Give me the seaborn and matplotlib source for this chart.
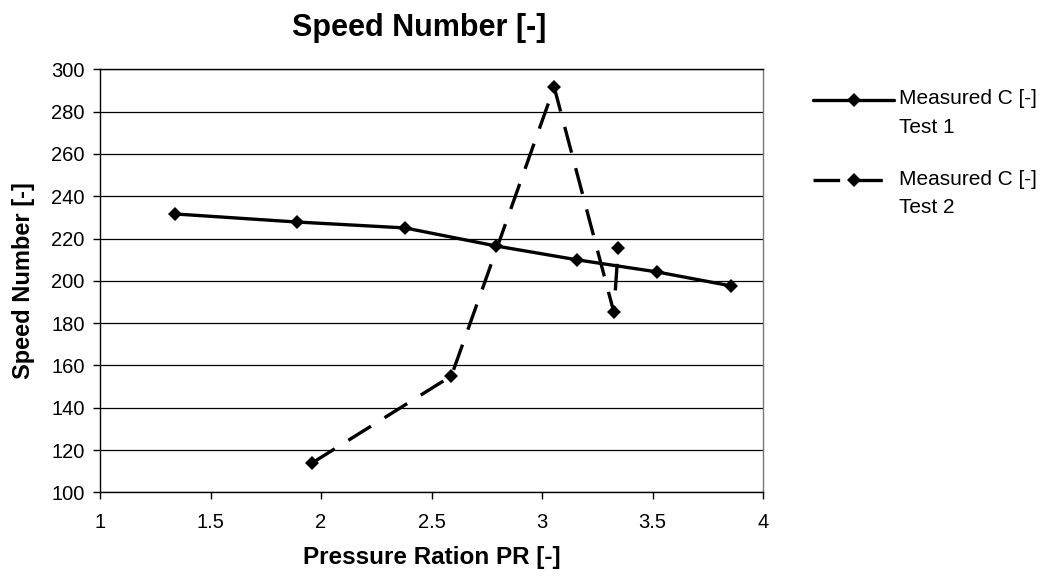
import numpy as np
import pandas as pd
import matplotlib
matplotlib.use("Agg")
import matplotlib.pyplot as plt
from matplotlib.legend_handler import HandlerLine2D
import seaborn as sns

# Pressure ratio vs. measured speed number for two test runs
test1_pr = [1.34, 1.89, 2.38, 2.79, 3.16, 3.52, 3.855]
test1_c = [231.6, 227.8, 225.0, 216.5, 209.9, 204.2, 197.6]
test2_pr = [1.96, 2.59, 3.055, 3.325, 3.345]
test2_c = [113.9, 155.0, 291.6, 185.2, 215.5]
series_labels = ["Measured C [-]\nTest 1", "Measured C [-]\nTest 2"]

x_ticks = [1, 1.5, 2, 2.5, 3, 3.5, 4]
y_ticks = [100, 120, 140, 160, 180, 200, 220, 240, 260, 280, 300]

df = pd.concat([
    pd.DataFrame({"PR": test1_pr, "C": test1_c, "series": series_labels[0]}),
    pd.DataFrame({"PR": test2_pr, "C": test2_c, "series": series_labels[1]}),
], ignore_index=True)

sns.set_theme(style="white")
plt.rcParams["font.family"] = ["Liberation Sans", "DejaVu Sans"]
plt.rcParams["text.color"] = "black"
plt.rcParams["axes.labelcolor"] = "black"
plt.rcParams["xtick.color"] = "black"
plt.rcParams["ytick.color"] = "black"

fig = plt.figure(figsize=(10.45, 5.83), dpi=100)
ax = fig.add_axes([100 / 1045, 1 - 492.3 / 583, 663 / 1045, 423 / 583])

sns.lineplot(
    data=df, x="PR", y="C", hue="series", style="series",
    palette=["black", "black"],
    dashes={series_labels[0]: "", series_labels[1]: (8, 4.8)},
    markers={series_labels[0]: "D", series_labels[1]: "D"},
    markersize=6.8, markeredgewidth=0, linewidth=2.4,
    sort=False, estimator=None, ax=ax, legend=True,
)

ax.set_xlim(1, 4)
ax.set_ylim(100, 300)
ax.set_xticks(x_ticks)
ax.set_xticklabels([f"{t:g}" for t in x_ticks])
ax.set_yticks(y_ticks)
ax.grid(axis="y", color="black", linewidth=0.9)
ax.grid(axis="x", visible=False)
for side in ["left", "bottom", "top", "right"]:
    ax.spines[side].set_visible(True)
    ax.spines[side].set_color("black")
    ax.spines[side].set_linewidth(1.0)
ax.spines["right"].set_color("#777777")
ax.tick_params(axis="both", which="major", direction="out", length=5, width=1,
               color="black", labelsize=14.5, labelcolor="black", bottom=True, left=True)
ax.tick_params(axis="x", pad=10)
ax.tick_params(axis="y", pad=6)

ax.set_xlabel("Pressure Ration PR [-]", fontsize=17.5, fontweight="bold", labelpad=10,
              color="black")
ax.set_ylabel("Speed Number [-]", fontsize=17, fontweight="bold", labelpad=12,
              color="black")
ax.set_title("Speed Number [-]", fontsize=22, fontweight="bold", pad=24,
             x=(419 - 100) / 663, color="black")


class TopAlignedLine(HandlerLine2D):
    """Line handle aligned with the first line of a two-line label."""
    def create_artists(self, legend, orig_handle, xdescent, ydescent,
                       width, height, fontsize, trans):
        artists = super().create_artists(legend, orig_handle, xdescent, ydescent,
                                         width, height, fontsize, trans)
        for a in artists:
            a.set_ydata(np.asarray(a.get_ydata()) + 0.65 * fontsize)
        return artists


handles, labels = ax.get_legend_handles_labels()
leg = ax.legend(
    handles, labels, loc="upper left",
    bbox_to_anchor=(813 / 1045, 1 - 89 / 583), bbox_transform=fig.transFigure,
    frameon=False, fontsize=15, handlelength=3.9, handletextpad=0.25,
    labelspacing=1.58, borderpad=0, borderaxespad=0,
    handler_map={type(handles[0]): TopAlignedLine()},
)
for t in leg.get_texts():
    t.set_linespacing(1.65)
    t.set_color("black")

fig.savefig("out.png", dpi=100)
